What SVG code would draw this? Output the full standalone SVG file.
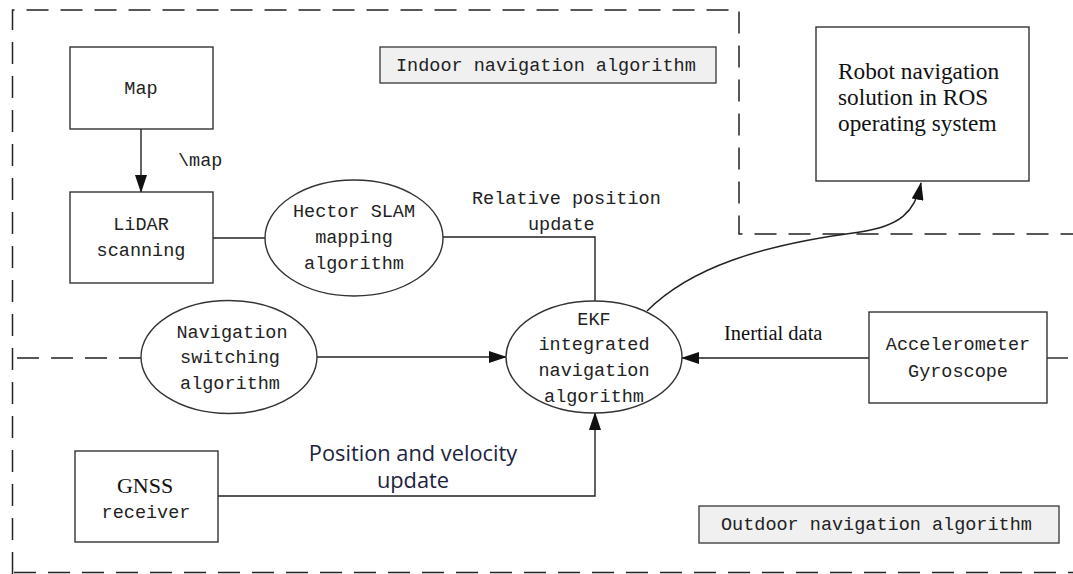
<svg xmlns="http://www.w3.org/2000/svg" width="1073" height="574" viewBox="0 0 1073 574">
<style>
.box{fill:#fff;stroke:#333;stroke-width:1.4}
.ell{fill:#fff;stroke:#333;stroke-width:1.4}
.tag{fill:#f0f0f0;stroke:#444;stroke-width:1.4}
.dash{fill:none;stroke:#222;stroke-width:1.5;stroke-dasharray:22 12}
.con{fill:none;stroke:#222;stroke-width:1.4}
.arr{marker-end:url(#ah)}
.mono{font-family:"Liberation Mono","DejaVu Sans Mono",monospace;font-size:18.5px;fill:#222}
.serif{font-family:"Liberation Serif","Times New Roman",serif;fill:#111}
.sans{font-family:"Open Sans","Noto Sans",sans-serif;font-size:21.8px;fill:#1c2440}
.c{text-anchor:middle}
</style>
<defs>
<marker id="ah" markerUnits="userSpaceOnUse" markerWidth="18" markerHeight="12" refX="17" refY="6" orient="auto">
<path d="M0,0 L18,6 L0,12 z" fill="#111"/>
</marker>
</defs>
<rect width="1073" height="574" fill="#fff"/>
<g id="boundaries">
<path class="dash" d="M12.5,574 V10 H739 V234 H1073"/>
<path class="dash" d="M17,358 H141"/>
<line x1="1047" y1="358" x2="1068" y2="358" stroke="#222" stroke-width="1.4"/>
<path class="dash" d="M14,572.5 H1073"/>
</g>
<g id="connectors">
<line class="con arr" x1="141" y1="129" x2="141" y2="192"/>
<line class="con" x1="213" y1="238" x2="265" y2="238"/>
<polyline class="con" points="443,237 595,237 595,301"/>
<line class="con arr" x1="317" y1="357" x2="506" y2="357"/>
<line class="con arr" x1="869" y1="358" x2="682" y2="358"/>
<polyline class="con arr" points="218,496 595,496 595,413"/>
<path class="con arr" d="M647,311 C690,268 760,245 860,232 C900,226 915,212 921,183"/>
<text class="mono" x="178" y="166">\map</text>
<text class="mono" x="472" y="204">Relative position</text>
<text class="mono" x="528" y="230">update</text>
<text class="serif" x="724" y="340" font-size="20.5">Inertial data</text>
<text class="sans c" x="413" y="461">Position and velocity</text>
<text class="sans c" x="413" y="488">update</text>
</g>
<g id="label-indoor">
<rect class="tag" x="380" y="47" width="336" height="36"/>
<text class="mono" x="396" y="71">Indoor navigation algorithm</text>
</g>
<g id="label-outdoor">
<rect class="tag" x="699" y="506" width="360" height="37"/>
<text class="mono" x="721" y="530">Outdoor navigation algorithm</text>
</g>
<g id="map">
<rect class="box" x="70" y="47" width="143" height="82"/>
<text class="mono c" x="141" y="94">Map</text>
</g>
<g id="lidar">
<rect class="box" x="70" y="192" width="143" height="91"/>
<text class="mono c" x="141" y="230">LiDAR</text>
<text class="mono c" x="141" y="256">scanning</text>
</g>
<g id="hector">
<ellipse class="ell" cx="354" cy="238" rx="89" ry="58"/>
<text class="mono c" x="354" y="217">Hector SLAM</text>
<text class="mono c" x="354" y="243">mapping</text>
<text class="mono c" x="354" y="269">algorithm</text>
</g>
<g id="robot">
<rect class="box" x="816" y="27" width="213" height="154"/>
<text class="serif" x="838" y="79" font-size="23.3">Robot navigation</text>
<text class="serif" x="838" y="105" font-size="23.3">solution in ROS</text>
<text class="serif" x="838" y="131" font-size="23.3">operating system</text>
</g>
<g id="navswitch">
<ellipse class="ell" cx="229" cy="357" rx="88" ry="56.5"/>
<text class="mono c" x="232" y="338">Navigation</text>
<text class="mono c" x="230" y="363">switching</text>
<text class="mono c" x="230" y="389">algorithm</text>
</g>
<g id="ekf">
<ellipse class="ell" cx="594" cy="357" rx="88" ry="56"/>
<text class="mono c" x="594" y="325">EKF</text>
<text class="mono c" x="594" y="350">integrated</text>
<text class="mono c" x="594" y="376">navigation</text>
<text class="mono c" x="594" y="402">algorithm</text>
</g>
<g id="accel">
<rect class="box" x="869" y="312" width="178" height="91"/>
<text class="mono c" x="958" y="350">Accelerometer</text>
<text class="mono c" x="958" y="377">Gyroscope</text>
</g>
<g id="gnss">
<rect class="box" x="75" y="451" width="143" height="91"/>
<text class="serif c" x="145" y="493" font-size="22">GNSS</text>
<text class="mono c" x="146" y="518">receiver</text>
</g>
</svg>
